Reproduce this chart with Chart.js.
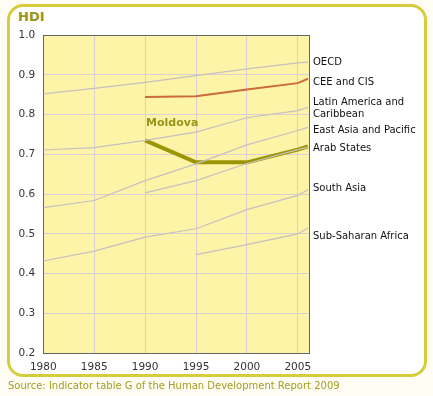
<!DOCTYPE html>
<html>
<head>
<meta charset="utf-8">
<script src="https://cdn.jsdelivr.net/npm/chart.js@4.4.1/dist/chart.umd.min.js"></script>
<style>
  body { margin: 0; background: #fff; }
  #wrap { position: relative; width: 433px; height: 396px; overflow: hidden; background: #fffdf3; }
  #card { position: absolute; left: 7px; top: 4px; width: 414px; height: 367px;
          border: 3px solid #d7cc3b; border-radius: 16px; background: #fff; }
  #hdi { position: absolute; left: 18px; top: 9px; font: bold 13px "DejaVu Sans", sans-serif; color: #9a9418; }
  #src { position: absolute; left: 8px; top: 380px; font: 10px "DejaVu Sans", sans-serif; color: #a39c22; white-space: nowrap; }
  canvas { position: absolute; left: 0; top: 0; }
</style>
</head>
<body>
<div id="wrap">
  <div id="card"></div>
  <div id="hdi">HDI</div>
  <canvas id="grafico" width="433" height="396"></canvas>
  <div id="src">Source: Indicator table G of the Human Development Report 2009</div>
</div>
<script>
// Datos (HDI por año)
const years = [1980, 1985, 1990, 1995, 2000, 2005, 2006];
const oecd      = [0.852, 0.866, 0.881, 0.898, 0.915, 0.930, 0.932];
const ceeCis    = [null, null, 0.844, 0.846, 0.863, 0.879, 0.890];
const latAm     = [0.711, 0.717, 0.735, 0.756, 0.792, 0.810, 0.818];
const eastAsia  = [0.566, 0.584, 0.634, 0.676, 0.724, 0.760, 0.768];
const arab      = [null, null, 0.603, 0.634, 0.677, 0.712, 0.718];
const southAsia = [0.432, 0.457, 0.492, 0.513, 0.561, 0.597, 0.611];
const ssa       = [null, null, null, 0.448, 0.473, 0.500, 0.515];
const moldova   = [null, null, 0.735, 0.680, 0.680, 0.712, 0.720];

const xTicks = [1980, 1985, 1990, 1995, 2000, 2005];
const yTicks = [0.2, 0.3, 0.4, 0.5, 0.6, 0.7, 0.8, 0.9, 1.0];

const regionNames = ['OECD', 'CEE and CIS', ['Latin America and', 'Caribbean'], 'East Asia and Pacific',
                     'Arab States', 'South Asia', 'Sub-Saharan Africa'];
// altura (en unidades HDI) donde se escribe cada etiqueta a la derecha
const nameLevels = [0.930, 0.880, 0.815, 0.761, 0.716, 0.614, 0.494];

function puntos(valores) {
    return years.map((y, i) => ({ x: y, y: valores[i] }));
}

const GRIS = '#c6c0c0';

const fondoPlugin = {
    id: 'fondo',
    beforeDraw(chart) {
        const { ctx, chartArea: a } = chart;
        ctx.save();
        ctx.fillStyle = '#fdf4a8';
        ctx.fillRect(a.left, a.top, a.right - a.left, a.bottom - a.top);
        ctx.restore();
    },
    beforeDatasetsDraw(chart) {
        const { ctx, chartArea: a } = chart;
        ctx.save();
        ctx.strokeStyle = '#666';
        ctx.lineWidth = 1;
        ctx.strokeRect(Math.round(a.left) + 0.5, Math.round(a.top) + 0.5,
                       Math.round(a.right - a.left), Math.round(a.bottom - a.top));
        ctx.restore();
    },
    afterDatasetsDraw(chart) {
        const { ctx, chartArea: a, scales } = chart;
        ctx.save();
        ctx.font = '10px "DejaVu Sans", sans-serif';
        ctx.fillStyle = '#111';
        ctx.textBaseline = 'middle';
        ctx.textAlign = 'left';
        regionNames.forEach((n, i) => {
            const y = scales.y.getPixelForValue(nameLevels[i]);
            if (Array.isArray(n)) {
                ctx.fillText(n[0], a.right + 4, y - 6);
                ctx.fillText(n[1], a.right + 4, y + 6);
            } else {
                ctx.fillText(n, a.right + 4, y);
            }
        });
        // etiqueta de Moldova sobre su primer punto
        ctx.font = 'bold 11px "DejaVu Sans", sans-serif';
        ctx.fillStyle = '#9a9418';
        ctx.fillText('Moldova', scales.x.getPixelForValue(1990) + 1, scales.y.getPixelForValue(moldova[2]) - 17);
        ctx.restore();
    }
};

const ctx = document.getElementById('grafico').getContext('2d');
new Chart(ctx, {
    type: 'line',
    data: {
        datasets: [
            { label: 'OECD', data: puntos(oecd), borderColor: GRIS, borderWidth: 1.2 },
            { label: 'Latin America and Caribbean', data: puntos(latAm), borderColor: GRIS, borderWidth: 1.2 },
            { label: 'East Asia and Pacific', data: puntos(eastAsia), borderColor: GRIS, borderWidth: 1.2 },
            { label: 'Arab States', data: puntos(arab), borderColor: GRIS, borderWidth: 1.2 },
            { label: 'South Asia', data: puntos(southAsia), borderColor: GRIS, borderWidth: 1.2 },
            { label: 'Sub-Saharan Africa', data: puntos(ssa), borderColor: GRIS, borderWidth: 1.2 },
            { label: 'CEE and CIS', data: puntos(ceeCis), borderColor: '#cc6a3c', borderWidth: 2 },
            { label: 'Moldova', data: puntos(moldova), borderColor: '#9c9606', borderWidth: 4 }
        ]
    },
    options: {
        responsive: false,
        animation: false,
        devicePixelRatio: 1,
        layout: { padding: { left: 0, top: 35, right: 124, bottom: 0 } },
        elements: { point: { radius: 0 }, line: { tension: 0, borderJoinStyle: 'miter' } },
        plugins: { legend: { display: false }, tooltip: { enabled: false } },
        scales: {
            x: {
                type: 'linear',
                min: 1980,
                max: 2006.1,
                afterFit(s) { s.height = 42.7; },
                afterBuildTicks(s) { s.ticks = xTicks.map(v => ({ value: v })); },
                ticks: { padding: 8, color: '#333', font: { family: 'DejaVu Sans', size: 10.5 },
                         callback: v => String(v), maxRotation: 0 },
                grid: { color: '#d8d0d4', drawTicks: false },
                border: { display: false }
            },
            y: {
                min: 0.2,
                max: 1.0,
                afterFit(s) { s.width = 43.3; },
                afterBuildTicks(s) { s.ticks = yTicks.map(v => ({ value: v })); },
                ticks: { padding: 8, color: '#333', font: { family: 'DejaVu Sans', size: 10.5 },
                         callback: v => v.toFixed(1) },
                grid: { color: '#d8d0d4', drawTicks: false },
                border: { display: false }
            }
        }
    },
    plugins: [fondoPlugin]
});
</script>
</body>
</html>
